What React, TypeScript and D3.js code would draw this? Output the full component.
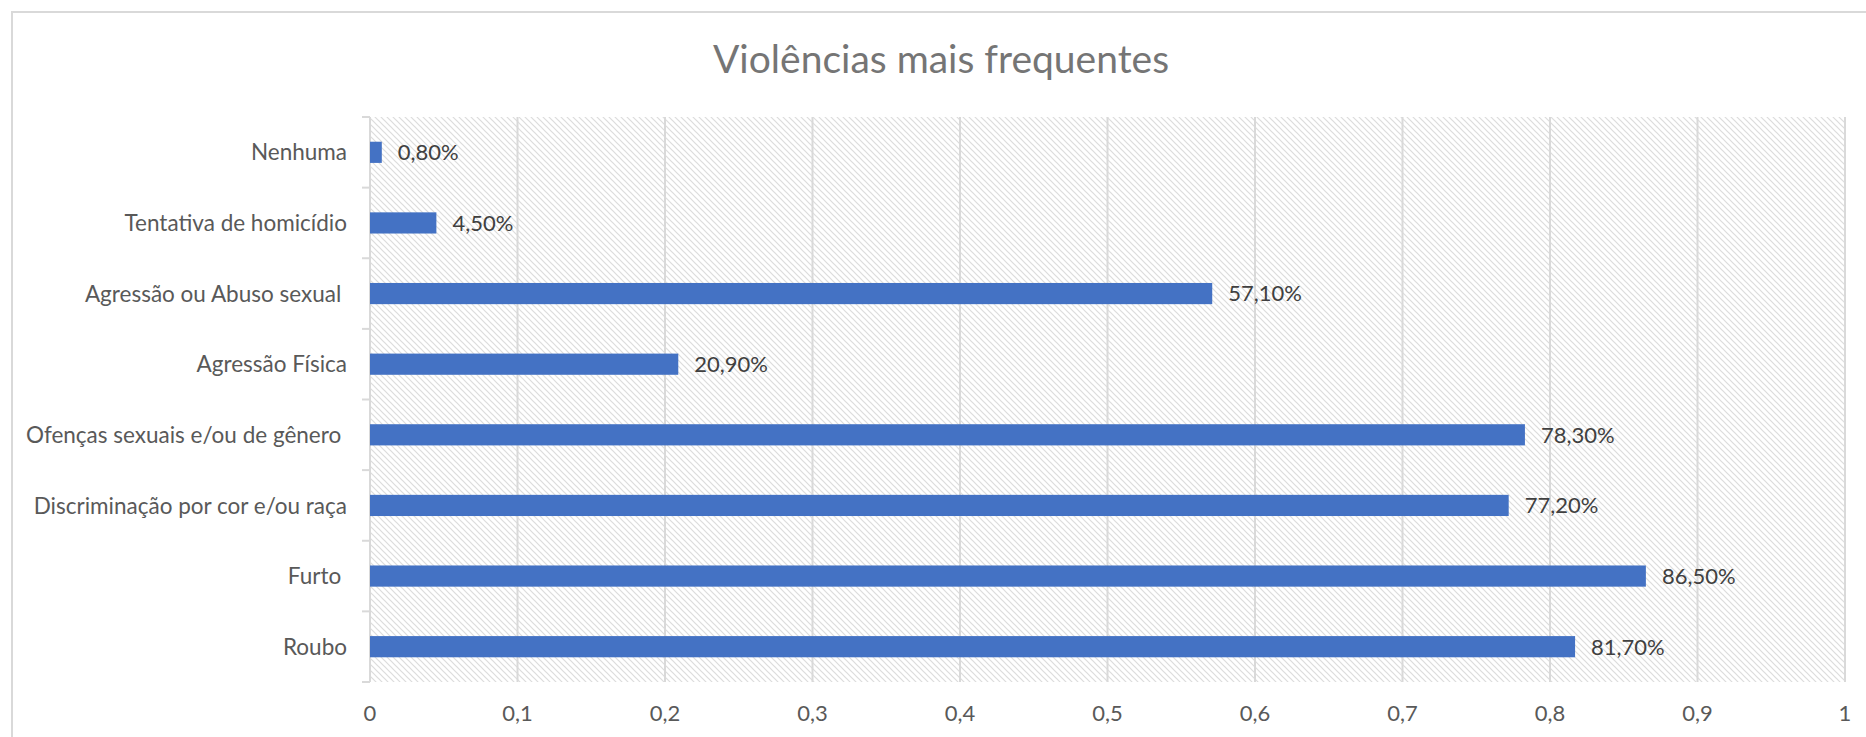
import React from "react";
import * as d3 from "d3";

const categories = [
  "Nenhuma",
  "Tentativa de homicídio",
  "Agressão ou Abuso sexual ",
  "Agressão Física",
  "Ofenças sexuais e/ou de gênero ",
  "Discriminação por cor e/ou raça",
  "Furto ",
  "Roubo",
];
const values = [0.008, 0.045, 0.571, 0.209, 0.783, 0.772, 0.865, 0.817];
const valueLabels = ["0,80%", "4,50%", "57,10%", "20,90%", "78,30%", "77,20%", "86,50%", "81,70%"];
const xTicks = [0, 0.1, 0.2, 0.3, 0.4, 0.5, 0.6, 0.7, 0.8, 0.9, 1];
const title = "Violências mais frequentes";

const W = 1866;
const H = 737;
const FONT = "Lato, 'Open Sans', sans-serif";

export default function App() {
  const left = 370, right = 1845, top = 117, bottom = 682;
  const x = d3.scaleLinear().domain([0, 1]).range([left, right]);
  const y = d3.scaleBand<string>().domain(categories).range([top, bottom]).paddingInner(0.7).paddingOuter(0.35);
  const yb = d3.scaleBand<string>().domain(categories).range([top, bottom]);
  const fmt = (v: number) => (v === 0 || v === 1 ? String(v) : d3.format(".1f")(v).replace(".", ","));

  return (
    <svg width={W} height={H} style={{ position: "absolute", left: 0, top: 0, display: "block" }}>
      <defs>
        <pattern id="hatch" width="6" height="6" patternUnits="userSpaceOnUse">
          <rect width="6" height="6" fill="#ffffff" />
          <path d="M-1,-1 L7,7 M-1,5 L1,7 M5,-1 L7,1" stroke="#dcdcdc" strokeWidth="1.2" />
        </pattern>
      </defs>
      <rect x={0} y={0} width={W} height={H} fill="#ffffff" />
      <rect x={12} y={12} width={W + 20} height={H + 20} fill="#ffffff" stroke="#d9d9d9" strokeWidth={2} />
      <text x={941} y={73} textAnchor="middle" fontFamily={FONT} fontSize={39} fill="#757575">
        {title}
      </text>
      <rect x={left} y={top} width={right - left} height={bottom - top} fill="url(#hatch)" />
      {xTicks.map((t) => (
        <line key={"g" + t} x1={x(t)} x2={x(t)} y1={top} y2={bottom} stroke="#d9d9d9" strokeWidth={2} />
      ))}
      {categories.map((c, i) => (
        <line key={"tk" + i} x1={left - 8} x2={left} y1={yb(c)!} y2={yb(c)!} stroke="#d9d9d9" strokeWidth={2} />
      ))}
      <line x1={left - 8} x2={left} y1={bottom} y2={bottom} stroke="#d9d9d9" strokeWidth={2} />
      {categories.map((c, i) => (
        <rect key={"b" + i} x={x(0)} y={y(c)!} width={x(values[i]) - x(0)} height={y.bandwidth()} fill="#4472c4" />
      ))}
      {categories.map((c, i) => (
        <text
          key={"v" + i}
          x={x(values[i]) + 16}
          y={y(c)! + y.bandwidth() / 2}
          dy="0.36em"
          fontFamily={FONT}
          fontSize={22}
          fill="#404040"
        >
          {valueLabels[i]}
        </text>
      ))}
      {categories.map((c, i) => (
        <text
          key={"c" + i}
          x={347}
          y={yb(c)! + yb.bandwidth() / 2}
          dy="0.36em"
          textAnchor="end"
          fontFamily={FONT}
          fontSize={22.5}
          fill="#595959"
          style={{ whiteSpace: "pre" }}
        >
          {c}
        </text>
      ))}
      {xTicks.map((t) => (
        <text key={"xl" + t} x={x(t)} y={713} dy="0.36em" textAnchor="middle" fontFamily={FONT} fontSize={22} fill="#595959">
          {fmt(t)}
        </text>
      ))}
    </svg>
  );
}
